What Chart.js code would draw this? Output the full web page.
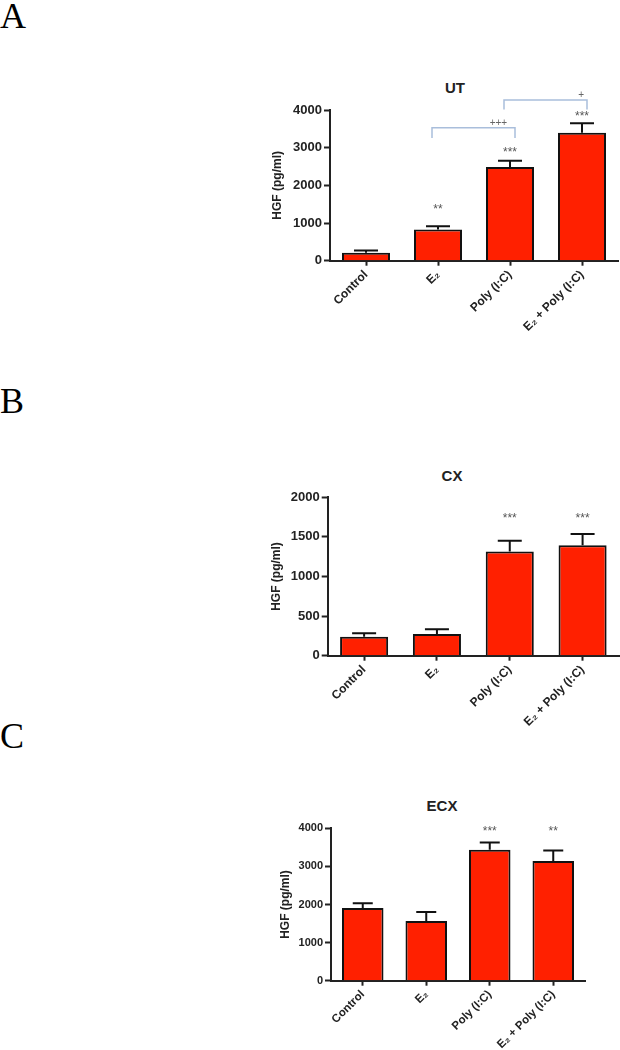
<!DOCTYPE html>
<html>
<head>
<meta charset="utf-8">
<script src="https://cdn.jsdelivr.net/npm/chart.js@4.4.1/dist/chart.umd.min.js"></script>
<style>
  html,body{margin:0;padding:0;background:#fff;}
  body{width:620px;height:1050px;overflow:hidden;position:relative;font-family:"Liberation Sans",Arial,sans-serif;}
  .letter{position:absolute;left:0;font-family:"Liberation Serif","Times New Roman",serif;font-size:36px;line-height:36px;color:#000;}
  .ptitle{position:absolute;font-weight:bold;font-size:15px;line-height:15px;color:#222;transform:translate(-50%,-50%);white-space:nowrap;}
  .wrap{position:absolute;left:0;width:620px;}
  canvas{display:block;}
</style>
</head>
<body>
<div class="letter" style="top:-2px">A</div>
<div class="letter" style="top:383px">B</div>
<div class="letter" style="top:718px">C</div>
<div class="ptitle" style="left:455px;top:87px">UT</div>
<div class="ptitle" style="left:452px;top:475px">CX</div>
<div class="ptitle" style="left:442px;top:805px">ECX</div>

<div class="wrap" style="top:0px;height:380px"><canvas id="cA" width="620" height="380"></canvas></div>
<div class="wrap" style="top:380px;height:360px"><canvas id="cB" width="620" height="360"></canvas></div>
<div class="wrap" style="top:740px;height:310px"><canvas id="cC" width="620" height="310"></canvas></div>

<script>
// ---------- data ----------
const categories = ['Control', 'E\u2082', 'Poly (I:C)', 'E\u2082 + Poly (I:C)'];

const utMean = [210, 830, 2490, 3395];
const utSem = [60, 85, 160, 250];
const utStars = ['', '**', '***', '***'];
const utStarLevel = [null, 1425, 2940, 3885];
const utTicks = [0, 1000, 2000, 3000, 4000];
const utBrackets = [
  {from: 1, to: 2, level: 3528, drop: 3255, label: '+++', labelLevel: 3655, labelPos: 0.8},
  {from: 2, to: 3, level: 4263, drop: 4016, label: '+', labelLevel: 4398, labelPos: 0.93}
];

const cxMean = [240, 275, 1315, 1395];
const cxSem = [45, 60, 135, 143];
const cxStars = ['', '', '***', '***'];
const cxStarLevel = [null, null, 1770, 1770];
const cxTicks = [0, 500, 1000, 1500, 2000];

const ecxMean = [1905, 1570, 3440, 3140];
const ecxSem = [130, 230, 185, 280];
const ecxStars = ['', '', '***', '**'];
const ecxStarLevel = [null, null, 3990, 3990];
const ecxTicks = [0, 1000, 2000, 3000, 4000];

const yTitle = 'HGF (pg/ml)';
const FONT = '"Liberation Sans", Arial, sans-serif';

// ---------- overlay plugin: error bars, stars, brackets ----------
const overlay = {
  id: 'overlay',
  afterDatasetsDraw(chart) {
    const p = chart.config._config.overlayData;
    if (!p) return;
    const {ctx} = chart;
    const xs = chart.scales.x, ys = chart.scales.y;
    ctx.save();
    ctx.strokeStyle = '#111';
    ctx.lineWidth = 2;
    p.mean.forEach((m, i) => {
      const cx = xs.getPixelForValue(i);
      const y0 = ys.getPixelForValue(m);
      const y1 = ys.getPixelForValue(m + p.sem[i]);
      ctx.beginPath();
      ctx.moveTo(cx, y0); ctx.lineTo(cx, y1);
      ctx.moveTo(cx - p.cap / 2, y1); ctx.lineTo(cx + p.cap / 2, y1);
      ctx.stroke();
    });
    ctx.fillStyle = '#555';
    ctx.font = p.starFont + 'px ' + FONT;
    ctx.textAlign = 'center';
    ctx.textBaseline = 'alphabetic';
    p.stars.forEach((s, i) => {
      if (!s) return;
      ctx.fillText(s, xs.getPixelForValue(i), ys.getPixelForValue(p.starLevel[i]) + p.starFont * 0.5);
    });
    (p.brackets || []).forEach(b => {
      const xl = xs.getPixelForValue(b.from) - 6;
      const xr = xs.getPixelForValue(b.to) + 5;
      const yl = ys.getPixelForValue(b.level);
      const yd = ys.getPixelForValue(b.drop);
      ctx.strokeStyle = '#a9bedb';
      ctx.lineWidth = 1.5;
      ctx.beginPath();
      ctx.moveTo(xl, yd); ctx.lineTo(xl, yl); ctx.lineTo(xr, yl); ctx.lineTo(xr, yd);
      ctx.stroke();
      ctx.fillStyle = '#666';
      ctx.font = '10px ' + FONT;
      ctx.textBaseline = 'middle';
      ctx.fillText(b.label, xl + (xr - xl) * b.labelPos, ys.getPixelForValue(b.labelLevel));
    });
    ctx.restore();
  }
};

function makePanel(id, g, mean, sem, stars, starLevel, ticks, brackets) {
  const W = 620;
  const yW = 62;
  const cfg = {
    type: 'bar',
    data: {
      labels: categories,
      datasets: [{
        data: mean,
        backgroundColor: '#ff2000',
        borderColor: '#111',
        borderWidth: 2,
        barPercentage: g.barPct,
        categoryPercentage: 1
      }]
    },
    options: {
      responsive: false,
      animation: false,
      devicePixelRatio: 1,
      layout: {padding: {left: g.left - yW, top: g.top, right: W - g.right, bottom: 0}},
      plugins: {legend: {display: false}, tooltip: {enabled: false}},
      scales: {
        x: {
          type: 'category',
          offset: true,
          grid: {display: true, offset: false, drawOnChartArea: false, drawTicks: true, tickLength: 5, tickWidth: 2, tickColor: '#222'},
          border: {display: true, color: '#222', width: 2},
          ticks: {font: {family: FONT, size: g.xFont, weight: 'bold'}, color: '#222', minRotation: 45, maxRotation: 45, padding: 2, autoSkip: false},
          afterFit(s) { s.height = g.H - g.bottom; }
        },
        y: {
          min: ticks[0],
          max: ticks[ticks.length - 1],
          afterBuildTicks(s) { s.ticks = ticks.map(v => ({value: v})); },
          grid: {display: true, drawOnChartArea: false, drawTicks: true, tickLength: 6, tickWidth: 2, tickColor: '#222'},
          border: {display: true, color: '#222', width: 2},
          ticks: {font: {family: FONT, size: g.yFont, weight: 'bold'}, color: '#222', padding: 2, callback: v => String(v)},
          title: {display: true, text: yTitle, font: {family: FONT, size: 12, weight: 'bold'}, color: '#222', padding: {top: g.titlePad, bottom: 0}},
          afterFit(s) { s.width = yW; }
        }
      }
    },
    plugins: [overlay]
  };
  cfg.overlayData = {mean, sem, stars, starLevel, brackets, cap: g.cap, starFont: 12};
  return new Chart(document.getElementById(id), cfg);
}

makePanel('cA', {H: 380, left: 330, top: 110, right: 618, bottom: 260.7, barPct: 0.667, xFont: 12, yFont: 13, titlePad: 2, cap: 24},
  utMean, utSem, utStars, utStarLevel, utTicks, utBrackets);
makePanel('cB', {H: 360, left: 327.7, top: 117.3, right: 619, bottom: 275.7, barPct: 0.66, xFont: 12, yFont: 13, titlePad: 3.4, cap: 24},
  cxMean, cxSem, cxStars, cxStarLevel, cxTicks, []);
makePanel('cC', {H: 310, left: 331, top: 88.3, right: 585, bottom: 240.7, barPct: 0.654, xFont: 11.5, yFont: 11, titlePad: 9.8, cap: 20},
  ecxMean, ecxSem, ecxStars, ecxStarLevel, ecxTicks, []);
</script>
</body>
</html>
